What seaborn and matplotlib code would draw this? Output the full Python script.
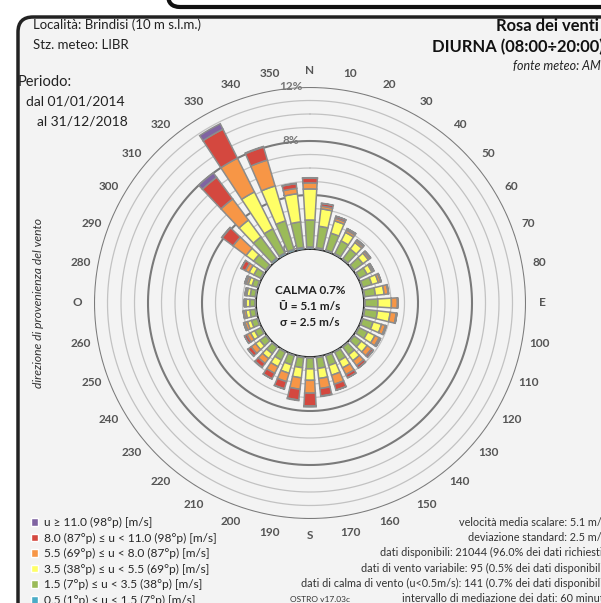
import numpy as np
import seaborn as sns
import matplotlib.pyplot as plt
import matplotlib.patches as mpatches

# wind direction sectors (deg, "from") and frequency (%) per speed class
directions = list(range(0, 360, 10))
tick_labels = ['N', '10', '20', '30', '40', '50', '60', '70', '80',
               'E', '100', '110', '120', '130', '140', '150', '160', '170',
               'S', '190', '200', '210', '220', '230', '240', '250', '260',
               'O', '280', '290', '300', '310', '320', '330', '340', '350']

u_05_15 = [0.15, 0.12, 0.10, 0.10, 0.08, 0.08, 0.08, 0.08, 0.08, 0.08, 0.08, 0.08,
           0.08, 0.08, 0.08, 0.08, 0.08, 0.08, 0.08, 0.08, 0.08, 0.08, 0.08, 0.08,
           0.08, 0.08, 0.08, 0.08, 0.08, 0.08, 0.10, 0.10, 0.15, 0.15, 0.15, 0.15]
u_15_35 = [2.00, 1.60, 1.30, 1.05, 0.90, 0.80, 0.65, 0.70, 0.80, 0.95, 0.95, 0.80,
           0.70, 0.65, 0.70, 0.70, 0.75, 0.80, 0.80, 0.75, 0.70, 0.65, 0.60, 0.55,
           0.50, 0.45, 0.40, 0.38, 0.38, 0.40, 0.55, 1.10, 1.95, 2.00, 2.20, 1.90]
u_35_55 = [2.30, 1.30, 0.95, 0.70, 0.60, 0.50, 0.40, 0.50, 0.65, 1.00, 0.95, 0.65,
           0.60, 0.55, 0.55, 0.60, 0.75, 0.75, 0.85, 0.75, 0.65, 0.55, 0.45, 0.40,
           0.35, 0.30, 0.30, 0.28, 0.25, 0.30, 0.40, 0.70, 1.55, 3.05, 2.70, 2.10]
u_55_80 = [0.45, 0.20, 0.20, 0.18, 0.15, 0.15, 0.12, 0.18, 0.30, 0.45, 0.45, 0.30,
           0.35, 0.40, 0.45, 0.55, 0.70, 0.75, 0.95, 0.85, 0.65, 0.55, 0.45, 0.40,
           0.30, 0.20, 0.15, 0.10, 0.10, 0.15, 0.30, 1.20, 1.95, 2.80, 2.00, 0.40]
u_80_110 = [0.35, 0.20, 0.15, 0.12, 0.10, 0.07, 0.05, 0.04, 0.03, 0.02, 0.05, 0.07,
            0.12, 0.17, 0.22, 0.27, 0.45, 0.55, 0.95, 0.80, 0.55, 0.45, 0.35, 0.30,
            0.20, 0.10, 0.05, 0.03, 0.04, 0.12, 0.35, 1.00, 2.00, 2.40, 1.00, 0.35]
u_110 = [0.03, 0.02, 0.01, 0.01, 0.00, 0.00, 0.00, 0.00, 0.00, 0.00, 0.00, 0.00,
         0.00, 0.00, 0.00, 0.00, 0.02, 0.03, 0.07, 0.05, 0.03, 0.02, 0.02, 0.01,
         0.00, 0.00, 0.00, 0.00, 0.00, 0.00, 0.02, 0.05, 0.40, 0.45, 0.05, 0.02]

classes = [u_05_15, u_15_35, u_35_55, u_55_80, u_80_110, u_110]
class_labels = ['0.5 (1°p) ≤ u < 1.5 (7°p) [m/s]',
                '1.5 (7°p) ≤ u < 3.5 (38°p) [m/s]',
                '3.5 (38°p) ≤ u < 5.5 (69°p) [m/s]',
                '5.5 (69°p) ≤ u < 8.0 (87°p) [m/s]',
                '8.0 (87°p) ≤ u < 11.0 (98°p) [m/s]',
                'u ≥ 11.0 (98°p) [m/s]']
colors = ['#4bacc6', '#9bbb59', '#ffff66', '#f79646', '#d4483f', '#8064a2']

sns.set_theme(style='white')
plt.rcParams['font.family'] = ['Lato', 'DejaVu Sans']

fig = plt.figure(figsize=(6.01, 6.03), dpi=100, facecolor='white')

# panel background with rounded border
panel = mpatches.FancyBboxPatch((18 / 601, -0.1), 1.2, 0.1 + 1 - 17 / 603,
                                boxstyle='round,pad=0,rounding_size=0.025',
                                transform=fig.transFigure, facecolor='#f3f3f3',
                                edgecolor='#222222', linewidth=2.5, zorder=-5)
fig.patches.append(panel)
top_box = mpatches.FancyBboxPatch((168 / 601, 1 - 7 / 603), 1.0, 0.2,
                                  boxstyle='round,pad=0,rounding_size=0.02',
                                  transform=fig.transFigure, facecolor='white',
                                  edgecolor='#111111', linewidth=3, zorder=-5)
fig.patches.append(top_box)

# polar axes: centre (310, 303) px, outer radius 216 px
ax = fig.add_axes([94 / 601, 1 - 519 / 603, 432 / 601, 432 / 603], projection='polar')
ax.set_facecolor('none')
ax.set_theta_zero_location('N')
ax.set_theta_direction(-1)
ax.set_rorigin(-4)
ax.set_ylim(0, 12)
ax.grid(False)
ax.spines['polar'].set_visible(False)
ax.set_yticks([])

# rings every 1%
circ = np.linspace(0, 2 * np.pi, 400)
for v in range(1, 13):
    if v % 4 == 0:
        ax.plot(circ, [v] * len(circ), color='#7a7a7a', lw=1.5, zorder=1)
    else:
        ax.plot(circ, [v] * len(circ), color='#c2c2c2', lw=0.9, zorder=1)

for v in [0, 4, 8, 12]:
    ax.annotate(f'{v}%', xy=(0, v), xytext=(-14, 0), textcoords='offset points',
                ha='center', va='center', fontsize=8.5, fontweight='bold',
                color='#777777', zorder=1.5)

# stacked bars
theta = np.deg2rad(directions)
bottom = np.zeros(len(directions))
handles = []
for vals, c, lab in zip(classes, colors, class_labels):
    vals = np.array(vals)
    ax.bar(theta, vals, width=np.deg2rad(6.8), bottom=bottom, color=c,
           edgecolor='#8c8c8c', linewidth=1.1, zorder=3)
    handles.append(mpatches.Patch(facecolor=c, label=lab))
    bottom = bottom + vals

ax.set_xticks(theta)
ax.set_xticklabels(tick_labels, fontsize=8.5, fontweight='bold', color='#555555')
ax.tick_params(axis='x', pad=-1)

# legend (highest class first)
fig.legend(handles=handles[::-1], loc='upper left',
           bbox_to_anchor=(31 / 601, 1 - 517 / 603), frameon=False,
           fontsize=8.6, handlelength=0.6, handleheight=0.6, handletextpad=0.45,
           labelspacing=0.38, borderpad=0, borderaxespad=0)

# header texts
fig.text(33 / 601, 1 - 25 / 603, 'Località: Brindisi (10 m s.l.m.)', fontsize=9.5,
         va='center', color='#222222')
fig.text(33 / 601, 1 - 45 / 603, 'Stz. meteo: LIBR', fontsize=9.5, va='center',
         color='#222222')
fig.text(18 / 601, 1 - 82 / 603, 'Periodo:', fontsize=10.5, va='center', color='#222222')
fig.text(26 / 601, 1 - 102 / 603, 'dal 01/01/2014', fontsize=10, va='center',
         color='#222222')
fig.text(37 / 601, 1 - 121 / 603, 'al 31/12/2018', fontsize=10, va='center',
         color='#222222')
fig.text(599 / 601, 1 - 26 / 603, 'Rosa dei venti', fontsize=11.9, fontweight='bold',
         ha='right', va='center', color='#111111')
fig.text(604 / 601, 1 - 47 / 603, 'DIURNA (08:00÷20:00)', fontsize=11.9,
         fontweight='bold', ha='right', va='center', color='#111111')
fig.text(513 / 601, 1 - 66 / 603, 'fonte meteo: AMI', fontsize=9, style='italic',
         va='center', color='#222222')

# centre box
fig.text(310 / 601, 1 - 290 / 603, 'CALMA 0.7%', fontsize=8.5, fontweight='bold',
         ha='center', va='center', color='#222222')
fig.text(310 / 601, 1 - 306 / 603, 'Ū = 5.1 m/s', fontsize=8.5, fontweight='bold',
         ha='center', va='center', color='#222222')
fig.text(310 / 601, 1 - 322 / 603, 'σ = 2.5 m/s', fontsize=8.5, fontweight='bold',
         ha='center', va='center', color='#222222')

fig.text(39 / 601, 1 - 303 / 603, 'direzione di provenienza del vento', fontsize=8.7,
         style='italic', rotation=90, ha='center', va='center', color='#333333')

# statistics block (clipped at right edge like the original)
stats = ['velocità media scalare: 5.1 m/s',
         'deviazione standard: 2.5 m/s',
         'dati disponibili: 21044 (96.0% dei dati richiesti)',
         'dati di vento variabile: 95 (0.5% dei dati disponibili)',
         'dati di calma di vento (u<0.5m/s): 141 (0.7% dei dati disponibili)',
         'intervallo di mediazione dei dati: 60 minuti']
for i, s in enumerate(stats):
    fig.text(606 / 601, 1 - (522 + 15.4 * i) / 603, s, fontsize=7.8, ha='right',
             va='center', color='#333333')
fig.text(290 / 601, 1 - 600 / 603, 'OSTRO v17.03c', fontsize=6, va='center',
         color='#333333')

fig.savefig('out.png', dpi=100, facecolor=fig.get_facecolor())
